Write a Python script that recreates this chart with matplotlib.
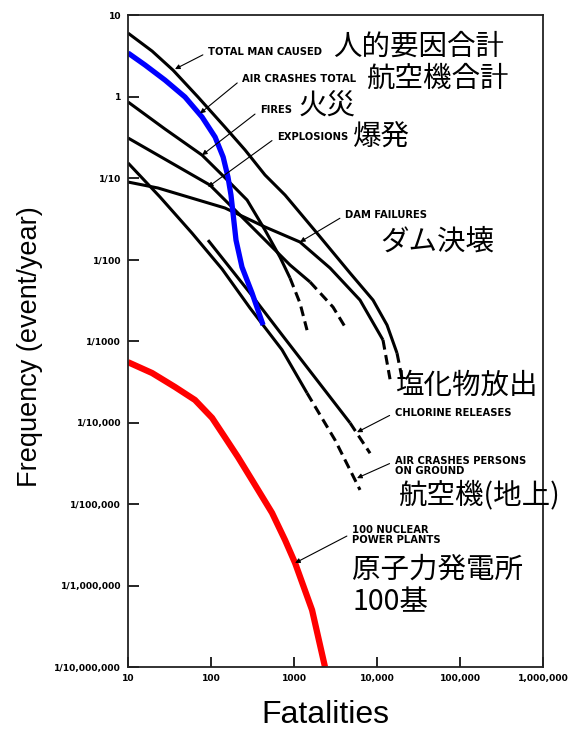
import matplotlib
matplotlib.use("Agg")
import matplotlib.pyplot as plt

plt.rcParams['font.family'] = ['DejaVu Sans', 'Noto Sans CJK JP']

# axis ticks
x_ticks = [10, 100, 1000, 1e4, 1e5, 1e6]
x_labels = ["10", "100", "1000", "10,000", "100,000", "1,000,000"]
y_ticks = [10, 1, 1e-1, 1e-2, 1e-3, 1e-4, 1e-5, 1e-6, 1e-7]
y_labels = ["10", "1", "1/10", "1/100", "1/1000", "1/10,000",
            "1/100,000", "1/1,000,000", "1/10,000,000"]

# curves (fatalities, events per year)
total_x = [10, 19.5, 34.8, 69.7, 147, 257, 447, 780, 1890, 4730, 8950,
           13200, 17420]
total_y = [6.0, 3.61, 2.11, 0.986, 0.422, 0.221, 0.109, 0.0618, 0.0211,
           0.00683, 0.00318, 0.00157, 7.1e-4]
total_dash_x = [17420, 20000]
total_dash_y = [7.1e-4, 3.5e-4]

air_x = [10, 16.0, 27.9, 48.6, 78.0, 112, 140, 160, 174, 184, 200, 236,
         312, 424]
air_y = [3.42, 2.44, 1.59, 0.986, 0.56, 0.318, 0.181, 0.103, 0.0618,
         0.0372, 0.0173, 0.00809, 0.00388, 0.00157]

fires_x = [10, 27.9, 78, 147, 272, 447, 678, 895]
fires_y = [0.857, 0.399, 0.191, 0.101, 0.0537, 0.023, 0.0107, 0.00593]
fires_dash_x = [895, 1180, 1435]
fires_dash_y = [0.00593, 0.00292, 0.00136]

expl_x = [10, 97, 295, 895, 1560]
expl_y = [0.31, 0.082, 0.0265, 0.00857, 0.0053]
expl_dash_x = [1560, 2950, 4350]
expl_dash_y = [0.0053, 0.00261, 0.00136]

dam_x = [10, 23, 147, 447, 1180, 2716, 6240, 11800]
dam_y = [0.0893, 0.0754, 0.0429, 0.0251, 0.0164, 0.00787, 0.00318, 0.00103]
dam_dash_x = [11800, 14350]
dam_dash_y = [0.00103, 3.4e-4]

chlor_x = [92, 295, 717, 4730]
chlor_y = [0.0173, 0.00388, 0.00119, 9.9e-5]
chlor_dash_x = [4730, 8240]
chlor_dash_y = [9.9e-5, 4.2e-5]

ground_x = [10, 24.3, 59, 136, 295, 717, 1435]
ground_y = [0.153, 0.0585, 0.0211, 0.00764, 0.00254, 7.8e-4, 2.3e-4]
ground_dash_x = [1435, 3120, 6240]
ground_dash_y = [2.3e-4, 6.1e-5, 1.49e-5]

nuke_x = [10, 19.5, 36.8, 64.1, 103, 147, 211, 312, 543, 780, 1030, 1650,
          2363]
nuke_y = [5.5e-4, 4.05e-4, 2.73e-4, 1.89e-4, 1.14e-4, 6.6e-5, 3.77e-5,
          1.97e-5, 7.8e-6, 3.61e-6, 1.89e-6, 5.0e-7, 1e-7]

fig = plt.figure(figsize=(5.71, 7.29), dpi=100)
ax = fig.add_axes([0.2242, 0.0850, 0.7268, 0.8944])
ax.set_xscale('log')
ax.set_yscale('log')
ax.set_xlim(10, 1e6)
ax.set_ylim(1e-7, 10)

black = dict(color='black', lw=2.2, solid_capstyle='butt',
             solid_joinstyle='round')
dash = dict(color='black', lw=2.2, ls=(0, (3.2, 1.8)), dash_capstyle='butt')

ax.plot(total_x, total_y, **black)
ax.plot(total_dash_x, total_dash_y, **dash)
ax.plot(fires_x, fires_y, **black)
ax.plot(fires_dash_x, fires_dash_y, **dash)
ax.plot(expl_x, expl_y, **black)
ax.plot(expl_dash_x, expl_dash_y, **dash)
ax.plot(dam_x, dam_y, **black)
ax.plot(dam_dash_x, dam_dash_y, **dash)
ax.plot(chlor_x, chlor_y, **black)
ax.plot(chlor_dash_x, chlor_dash_y, **dash)
ax.plot(ground_x, ground_y, **black)
ax.plot(ground_dash_x, ground_dash_y, **dash)
ax.plot(air_x, air_y, color='#0000ff', lw=3.8, solid_capstyle='butt',
        solid_joinstyle='round')
ax.plot(nuke_x, nuke_y, color='#ff0000', lw=4.5, solid_capstyle='butt',
        solid_joinstyle='round')

# ticks
ax.set_xticks(x_ticks)
ax.set_xticklabels(x_labels, fontsize=6.6, fontweight='bold')
ax.set_yticks(y_ticks)
ax.set_yticklabels(y_labels, fontsize=6.6, fontweight='bold')
ax.minorticks_off()
ax.tick_params(axis='y', direction='in', length=8, width=1.2, pad=5)
ax.tick_params(axis='x', direction='in', length=7, width=1.2, pad=5)
for s in ax.spines.values():
    s.set_linewidth(1.3)
    s.set_color('#222222')

# english labels with arrows
arrow = dict(arrowstyle='-|>', color='black', lw=0.8, mutation_scale=7,
             shrinkA=2, shrinkB=0)
lab = dict(textcoords='axes fraction', ha='left', va='center',
           fontsize=7.2, fontweight='bold', family='DejaVu Sans')

ax.annotate("TOTAL MAN CAUSED", xy=(36.8, 2.17), xytext=(0.193, 0.943),
            arrowprops=dict(arrow, relpos=(0, 0.5)), **lab)
ax.annotate("AIR CRASHES TOTAL", xy=(73.7, 0.62), xytext=(0.275, 0.902),
            arrowprops=dict(arrow, relpos=(0, 0.5)), **lab)
ax.annotate("FIRES", xy=(78, 0.191), xytext=(0.318, 0.854),
            arrowprops=dict(arrow, relpos=(0, 0.5)), **lab)
ax.annotate("EXPLOSIONS", xy=(92, 0.0776), xytext=(0.359, 0.813),
            arrowprops=dict(arrow, relpos=(0, 0.5)), **lab)
ax.annotate("DAM FAILURES", xy=(1180, 0.0164), xytext=(0.523, 0.693),
            arrowprops=dict(arrow, relpos=(0, 0.5)), **lab)
ax.annotate("CHLORINE RELEASES", xy=(5740, 7.6e-5), xytext=(0.643, 0.390),
            arrowprops=dict(arrow, relpos=(0, 0.5)), **lab)
ax.annotate("AIR CRASHES PERSONS\nON GROUND", xy=(5740, 2.08e-5),
            xytext=(0.643, 0.308), linespacing=1.0,
            arrowprops=dict(arrow, relpos=(0, 0.75)), **lab)
ax.annotate("100 NUCLEAR\nPOWER PLANTS", xy=(1030, 1.89e-6),
            xytext=(0.540, 0.202), linespacing=1.0,
            arrowprops=dict(arrow, relpos=(0, 0.6)), **lab)

# japanese labels
jp = dict(transform=ax.transAxes, ha='left', va='center', fontsize=20.5,
          family='Noto Sans CJK JP', color='black')
ax.text(0.494, 0.951, "人的要因合計", **jp)
ax.text(0.573, 0.902, "航空機合計", **jp)
ax.text(0.412, 0.859, "火災", **jp)
ax.text(0.542, 0.813, "爆発", **jp)
ax.text(0.607, 0.652, "ダム決壊", **jp)
ax.text(0.643, 0.431, "塩化物放出", **jp)
ax.text(0.651, 0.264, "航空機(地上)", **jp)
ax.text(0.540, 0.149, "原子力発電所", **jp)
ax.text(0.540, 0.0997, "100基", **jp)

fig.text(30 / 571, 1 - 347 / 729, "Frequency (event/year)", rotation=90,
         ha='center', va='center', fontsize=19.5, family='Liberation Sans')
fig.text(325 / 571, 1 - 715 / 729, "Fatalities", ha='center', va='center',
         fontsize=23, family='Liberation Sans')

fig.savefig("out.png", dpi=100)
